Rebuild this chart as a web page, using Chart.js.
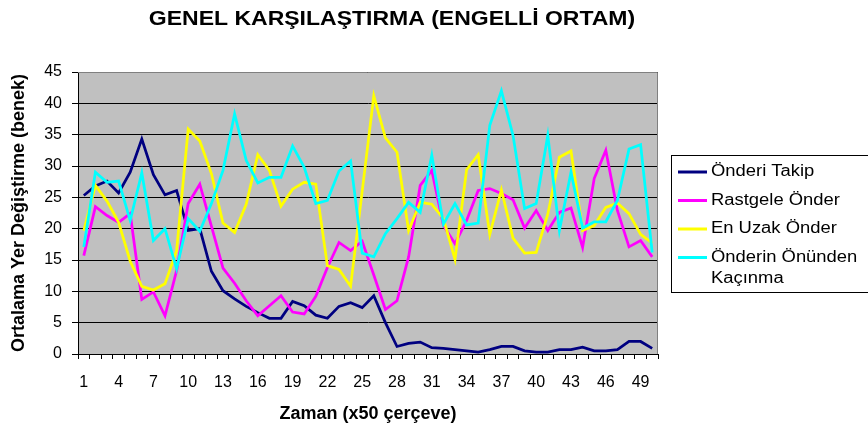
<!DOCTYPE html>
<html>
<head>
<meta charset="utf-8">
<script src="https://cdn.jsdelivr.net/npm/chart.js@4/dist/chart.umd.min.js"></script>
<style>
  html, body { margin: 0; padding: 0; background: #fff; }
  #wrap { width: 868px; height: 432px; }
</style>
</head>
<body>
<div id="wrap"><canvas id="grafik" width="868" height="432"></canvas></div>
<script>
// Chart texts
const grafikBasligi = 'GENEL KARŞILAŞTIRMA (ENGELLİ ORTAM)';
const xBasligi = 'Zaman (x50 çerçeve)';
const yBasligi = 'Ortalama Yer Değiştirme (benek)';

// Categories (time steps)
const zamanlar = ['1', '2', '3', '4', '5', '6', '7', '8', '9', '10',
    '11', '12', '13', '14', '15', '16', '17', '18', '19', '20',
    '21', '22', '23', '24', '25', '26', '27', '28', '29', '30',
    '31', '32', '33', '34', '35', '36', '37', '38', '39', '40',
    '41', '42', '43', '44', '45', '46', '47', '48', '49', '50'];

// Series values
const onderiTakip = [25.3, 26.8, 27.6, 25.7, 29.0, 34.3, 28.6, 25.4, 26.1, 19.7,
    20.0, 13.2, 10.1, 8.8, 7.6, 6.6, 5.7, 5.7, 8.4, 7.7,
    6.2, 5.7, 7.6, 8.2, 7.4, 9.3, 5.0, 1.2, 1.7, 1.9,
    1.0, 0.9, 0.7, 0.5, 0.3, 0.7, 1.2, 1.2, 0.5, 0.3,
    0.3, 0.7, 0.7, 1.1, 0.5, 0.5, 0.7, 2.0, 2.0, 0.9];

const rastgeleOnder = [15.7, 23.5, 22.1, 21.0, 22.4, 8.7, 9.9, 6.1, 13.3, 24.0,
    27.1, 20.4, 13.7, 11.3, 8.5, 6.1, 7.7, 9.3, 6.7, 6.4,
    9.2, 13.8, 17.8, 16.5, 18.0, 12.6, 7.1, 8.5, 15.5, 26.9,
    29.3, 20.5, 17.6, 21.3, 26.1, 26.4, 25.6, 24.6, 20.1, 22.9,
    19.7, 22.6, 23.3, 17.0, 28.0, 32.5, 22.9, 17.1, 18.1, 15.5];

const enUzakOnder = [19.7, 26.9, 24.4, 21.0, 14.8, 10.8, 10.2, 11.2, 16.5, 35.9,
    34.0, 28.8, 20.9, 19.4, 23.9, 31.8, 29.3, 23.6, 26.3, 27.4,
    27.1, 14.1, 13.5, 10.8, 26.0, 41.2, 34.5, 32.2, 19.7, 24.2,
    23.9, 21.6, 15.1, 29.4, 31.8, 19.1, 26.2, 18.5, 16.1, 16.2,
    22.3, 31.4, 32.4, 19.7, 20.5, 23.4, 24.1, 22.4, 19.1, 17.7];

const onundenKacinma = [17.1, 29.0, 27.4, 27.6, 21.3, 28.9, 18.1, 20.0, 13.6, 21.6,
    19.6, 24.0, 29.3, 38.3, 30.9, 27.3, 28.2, 28.2, 33.2, 29.8,
    24.0, 24.5, 29.2, 30.8, 16.1, 15.5, 19.2, 21.6, 24.2, 22.6,
    31.7, 20.7, 24.0, 20.6, 20.9, 36.5, 42.0, 34.9, 23.2, 24.0,
    34.9, 19.7, 29.0, 20.1, 21.1, 21.1, 24.5, 32.7, 33.4, 16.2];

const FONT = '"Liberation Sans", Arial, sans-serif';

// grey plot background + grey top/right frame
const plotArkaPlan = {
    id: 'plotArkaPlan',
    beforeDraw(chart) {
        const { ctx, chartArea: a } = chart;
        ctx.save();
        ctx.fillStyle = '#c0c0c0';
        ctx.fillRect(a.left, a.top, a.right - a.left, a.bottom - a.top);
        ctx.restore();
    },
    beforeDatasetsDraw(chart) {
        const { ctx, chartArea: a } = chart;
        ctx.save();
        ctx.strokeStyle = '#808080';
        ctx.lineWidth = 1;
        ctx.beginPath();
        ctx.moveTo(a.left, a.top + 0.5);
        ctx.lineTo(a.right - 0.5, a.top + 0.5);
        ctx.lineTo(a.right - 0.5, a.bottom);
        ctx.stroke();
        ctx.restore();
    }
};

// title and boxed legend, text slightly widened like the original
const baslikVeLejant = {
    id: 'baslikVeLejant',
    afterDraw(chart) {
        const ctx = chart.ctx;
        const sx = 1.15;
        ctx.save();
        ctx.fillStyle = '#000';
        ctx.textAlign = 'center';
        ctx.textBaseline = 'middle';
        ctx.font = 'bold 20px ' + FONT;
        ctx.translate(392, 19);
        ctx.scale(sx, 1);
        ctx.fillText(grafikBasligi, 0, 0);
        ctx.restore();

        // legend box
        ctx.save();
        ctx.strokeStyle = '#000';
        ctx.lineWidth = 1;
        ctx.strokeRect(671.5, 155.5, 210, 137);
        ctx.font = '16px ' + FONT;
        ctx.textBaseline = 'middle';
        ctx.textAlign = 'left';
        const maxW = (868 - 711 - 4) / sx;
        let y = 172;
        chart.data.datasets.forEach(ds => {
            ctx.strokeStyle = ds.borderColor;
            ctx.lineWidth = 3;
            ctx.beginPath();
            ctx.moveTo(678, y);
            ctx.lineTo(707, y);
            ctx.stroke();
            // simple word wrap
            const words = ds.label.split(' ');
            const lines = [];
            let cur = '';
            words.forEach(w => {
                const test = cur ? cur + ' ' + w : w;
                if (ctx.measureText(test).width > maxW && cur) {
                    lines.push(cur);
                    cur = w;
                } else {
                    cur = test;
                }
            });
            lines.push(cur);
            ctx.fillStyle = '#000';
            lines.forEach((ln, i) => {
                ctx.save();
                ctx.translate(711, y + i * 21);
                ctx.scale(sx, 1);
                ctx.fillText(ln, 0, 0);
                ctx.restore();
            });
            y += 28.5;
        });
        ctx.restore();
    }
};

const ctx = document.getElementById('grafik').getContext('2d');

new Chart(ctx, {
    type: 'line',
    data: {
        labels: zamanlar,
        datasets: [
            { label: 'Önderi Takip', data: onderiTakip, borderColor: '#000080', order: 4 },
            { label: 'Rastgele Önder', data: rastgeleOnder, borderColor: '#ff00ff', order: 3 },
            { label: 'En Uzak Önder', data: enUzakOnder, borderColor: '#ffff00', order: 2 },
            { label: 'Önderin Önünden Kaçınma', data: onundenKacinma, borderColor: '#00ffff', order: 1 }
        ]
    },
    options: {
        responsive: false,
        animation: false,
        devicePixelRatio: 1,
        layout: { padding: { top: 72, right: 210, left: 0, bottom: 0 } },
        elements: {
            line: { borderWidth: 2.75, tension: 0, fill: false },
            point: { radius: 0, hoverRadius: 0 }
        },
        plugins: {
            legend: { display: false },
            title: { display: false },
            tooltip: { enabled: false }
        },
        scales: {
            x: {
                offset: true,
                grid: { offset: true, drawOnChartArea: false, drawTicks: true, tickLength: 5, color: '#000' },
                border: { color: '#000', width: 1 },
                ticks: {
                    autoSkip: false,
                    maxRotation: 0,
                    minRotation: 0,
                    padding: 14,
                    color: '#000',
                    font: { family: FONT, size: 16 },
                    callback: function (val, idx) {
                        return idx % 3 === 0 ? this.getLabelForValue(val) : '';
                    }
                },
                title: {
                    display: true,
                    text: xBasligi,
                    color: '#000',
                    font: { family: FONT, size: 18, weight: 'bold' },
                    padding: { top: 0, bottom: 7 }
                },
                afterFit: function (scale) { scale.height = 78; }
            },
            y: {
                min: 0,
                max: 45,
                grid: { color: '#000', lineWidth: 1, drawTicks: true, tickLength: 6 },
                border: { color: '#000', width: 1 },
                ticks: {
                    stepSize: 5,
                    padding: 10,
                    color: '#000',
                    font: { family: FONT, size: 16 }
                },
                title: {
                    display: true,
                    text: yBasligi,
                    color: '#000',
                    font: { family: FONT, size: 18, weight: 'bold' },
                    padding: { top: 8, bottom: 0 }
                },
                afterFit: function (scale) { scale.width = 78; }
            }
        }
    },
    plugins: [plotArkaPlan, baslikVeLejant]
});
</script>
</body>
</html>
